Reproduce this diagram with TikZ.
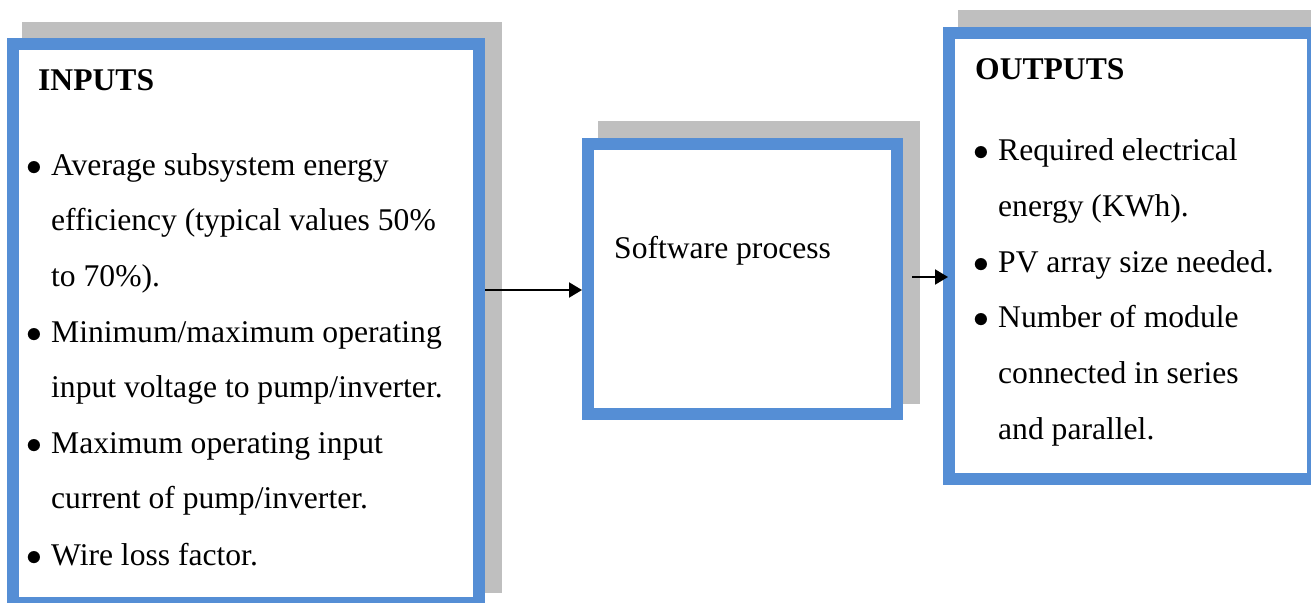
\documentclass[tikz,border=0pt]{standalone}
\usepackage{fix-cm}
\usepackage{fontspec}
\setmainfont{Liberation Serif}
\usetikzlibrary{arrows.meta}
\definecolor{boxblue}{RGB}{85,142,213}
\definecolor{shadowgray}{RGB}{191,191,191}
% list marker with its hanging indent
\newcommand{\itemmark}{\makebox[25pt][l]{$\bullet$}}
\begin{document}
\begin{tikzpicture}[x=1pt,y=-1pt,
  shadowbox/.style={fill=shadowgray, inner sep=0pt, outer sep=0pt},
  bluebox/.style={draw=boxblue, fill=white, line width=12pt, inner sep=0pt},
  txt/.style={anchor=base west, inner sep=0pt, font=\fontsize{31.6}{38}\selectfont},
  head/.style={txt, font=\fontsize{31.6}{38}\selectfont\bfseries},
  flow/.style={line width=2pt, -{Triangle[length=13pt,width=15pt]}}]
\useasboundingbox (0,0) rectangle (1311,602);

% drop shadows
\node[shadowbox, minimum width=480pt, minimum height=571pt] (inshadow) at (262,307.5) {};
\node[shadowbox, minimum width=322pt, minimum height=283pt] (procshadow) at (759,262.5) {};
\node[shadowbox, minimum width=376pt, minimum height=458pt] (outshadow) at (1146,239) {};

% framed boxes (sizes measured along the middle of the frame)
\node[bluebox, minimum width=466pt, minimum height=559pt] (inputs) at (246,323.5) {};
\node[bluebox, minimum width=309pt, minimum height=270pt] (process) at (742.5,279) {};
\node[bluebox, minimum width=364pt, minimum height=446pt] (outputs) at (1131,256) {};

% inputs
\node[head] (inhead) at (38,90) {INPUTS};
\node[txt] (in1) at (26,175) {\itemmark Average subsystem energy};
\node[txt] (in2) at (51,230.5) {efficiency (typical values 50\%};
\node[txt] (in3) at (51,286) {to 70\%).};
\node[txt] (in4) at (26,342) {\itemmark Minimum/maximum operating};
\node[txt] (in5) at (51,397.5) {input voltage to pump/inverter.};
\node[txt] (in6) at (26,453) {\itemmark Maximum operating input};
\node[txt] (in7) at (51,508.5) {current of pump/inverter.};
\node[txt] (in8) at (26,565) {\itemmark Wire loss factor.};

% process
\node[txt] (proc) at (614,258) {Software process};

% outputs
\node[head] (outhead) at (975,79) {OUTPUTS};
\node[txt] (out1) at (973,160.5) {\itemmark Required electrical};
\node[txt] (out2) at (998,216) {energy (KWh).};
\node[txt] (out3) at (973,272) {\itemmark PV array size needed.};
\node[txt] (out4) at (973,327.5) {\itemmark Number of module};
\node[txt] (out5) at (998,383) {connected in series};
\node[txt] (out6) at (998,439) {and parallel.};

% connectors
\coordinate (ylevel) at (0,290);
\coordinate (outstart) at (912,277);
\draw[flow] (inputs.east |- ylevel) -- (process.west |- ylevel);
\draw[flow, shorten >=-5pt] (outstart) -- (outputs.west |- outstart);
\end{tikzpicture}
\end{document}
